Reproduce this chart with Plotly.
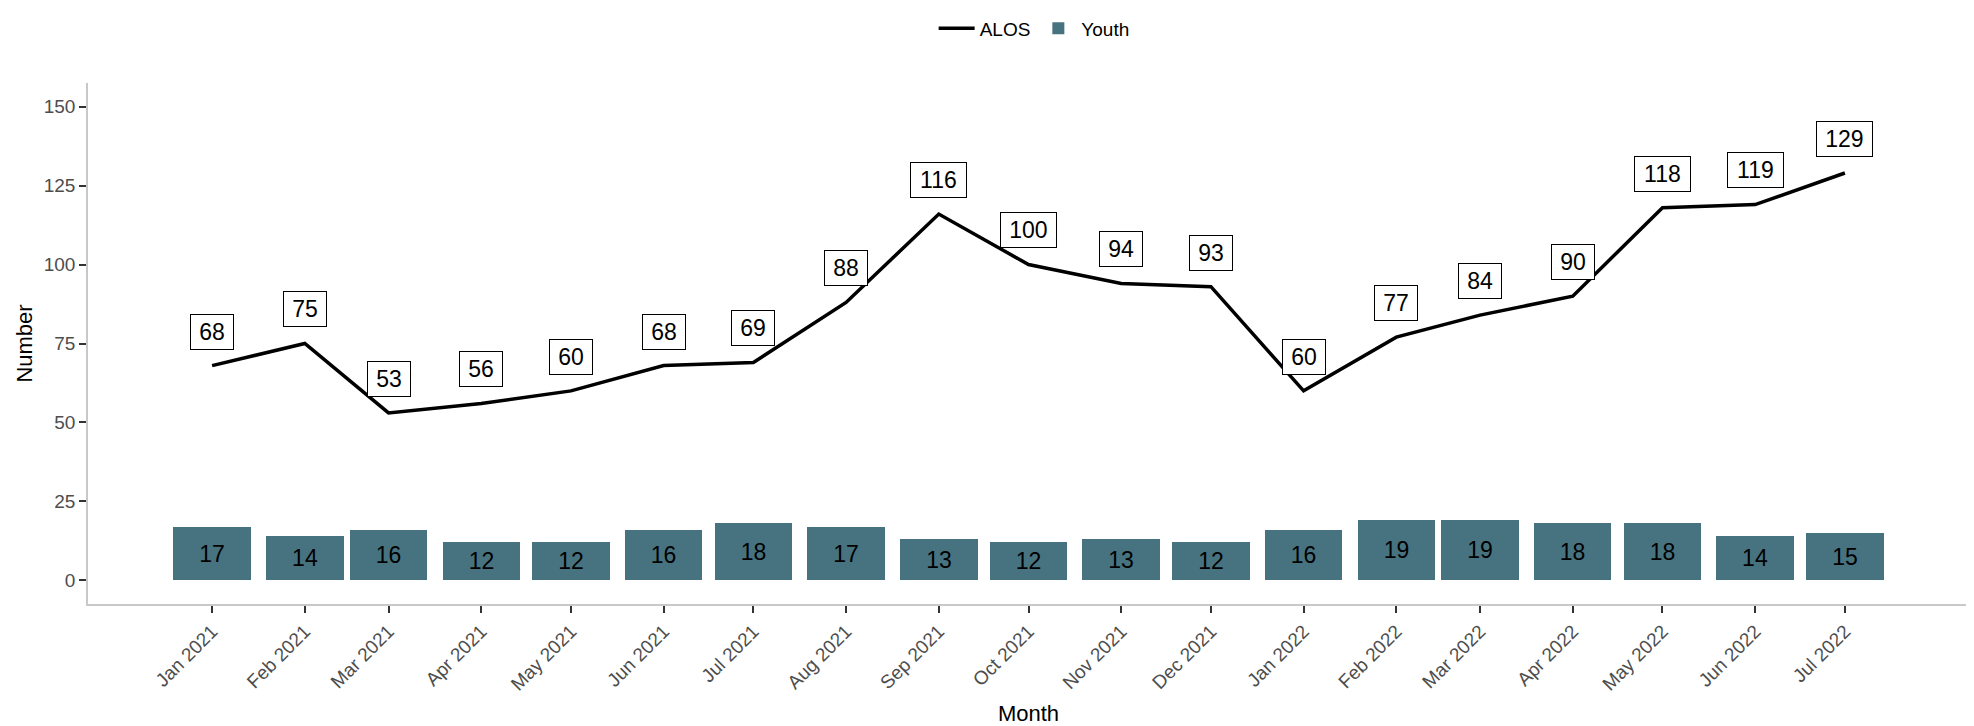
import plotly.graph_objects as go
import pandas as pd

months = ["2021-01-01", "2021-02-01", "2021-03-01", "2021-04-01", "2021-05-01", "2021-06-01",
          "2021-07-01", "2021-08-01", "2021-09-01", "2021-10-01", "2021-11-01", "2021-12-01",
          "2022-01-01", "2022-02-01", "2022-03-01", "2022-04-01", "2022-05-01", "2022-06-01",
          "2022-07-01"]
tick_labels = ["Jan 2021", "Feb 2021", "Mar 2021", "Apr 2021", "May 2021", "Jun 2021",
               "Jul 2021", "Aug 2021", "Sep 2021", "Oct 2021", "Nov 2021", "Dec 2021",
               "Jan 2022", "Feb 2022", "Mar 2022", "Apr 2022", "May 2022", "Jun 2022",
               "Jul 2022"]
alos = [68, 75, 53, 56, 60, 68, 69, 88, 116, 100, 94, 93, 60, 77, 84, 90, 118, 119, 129]
youth = [17, 14, 16, 12, 12, 16, 18, 17, 13, 12, 13, 12, 16, 19, 19, 18, 18, 14, 15]

BAR_COLOR = "#477380"
FONT = "Liberation Sans, Arial, sans-serif"
DAY_MS = 86400000
LABEL_SIZE = 23

dates = pd.to_datetime(months)
bar_width_days = 25.9
pad_days = 41.5
x_range = [dates[0] - pd.Timedelta(days=pad_days), dates[-1] + pd.Timedelta(days=pad_days)]

fig = go.Figure()

fig.add_trace(go.Bar(
    x=dates, y=youth, name="Youth",
    marker=dict(color=BAR_COLOR, line=dict(width=0)),
    width=[bar_width_days * DAY_MS] * len(youth),
    text=[str(v) for v in youth],
    textposition="inside", insidetextanchor="middle", textangle=0,
    textfont=dict(family=FONT, size=LABEL_SIZE, color="black"),
    constraintext="none",
))

fig.add_trace(go.Scatter(
    x=dates, y=alos, name="ALOS", mode="lines",
    line=dict(color="black", width=3.5),
))

for d, v in zip(dates, alos):
    s = str(v)
    fig.add_annotation(
        x=d, y=v + 10.8, text=s, showarrow=False,
        xanchor="center", yanchor="middle",
        width=len(s) * 0.556 * LABEL_SIZE + 8.5,
        font=dict(family=FONT, size=LABEL_SIZE, color="black"),
        bgcolor="white", bordercolor="black", borderwidth=1, borderpad=4,
    )

fig.update_layout(
    width=1966, height=718,
    paper_bgcolor="white", plot_bgcolor="white",
    margin=dict(l=80, r=5, t=75, b=122, autoexpand=False),
    font=dict(family=FONT, color="black"),
    showlegend=True,
    legend=dict(orientation="h", x=0.503, xanchor="center", y=1.105, yanchor="middle",
                font=dict(family=FONT, size=19, color="black"),
                traceorder="reversed", itemwidth=36),
    bargap=0,
)

fig.update_xaxes(
    range=x_range, automargin=False,
    tickmode="array", tickvals=dates, ticktext=tick_labels,
    tickangle=-45, tickfont=dict(family=FONT, size=19, color="#4d4d4d"),
    ticks="outside", ticklen=7, tickwidth=1.5, tickcolor="#333333",
    showline=True, linecolor="#c8c8c8", linewidth=1.5,
    showgrid=False, zeroline=False,
    title=dict(text="Month", font=dict(family=FONT, size=22, color="black"), standoff=14),
)
fig.update_yaxes(
    range=[-7.5, 157.5], automargin=False,
    tickmode="array", tickvals=[0, 25, 50, 75, 100, 125, 150],
    tickfont=dict(family=FONT, size=19, color="#4d4d4d"),
    ticks="outside", ticklen=7, tickwidth=1.5, tickcolor="#333333",
    showline=True, linecolor="#c8c8c8", linewidth=1.5,
    showgrid=False, zeroline=False,
    title=dict(text="Number", font=dict(family=FONT, size=22, color="black"), standoff=5),
)

fig.write_html("out.html")
